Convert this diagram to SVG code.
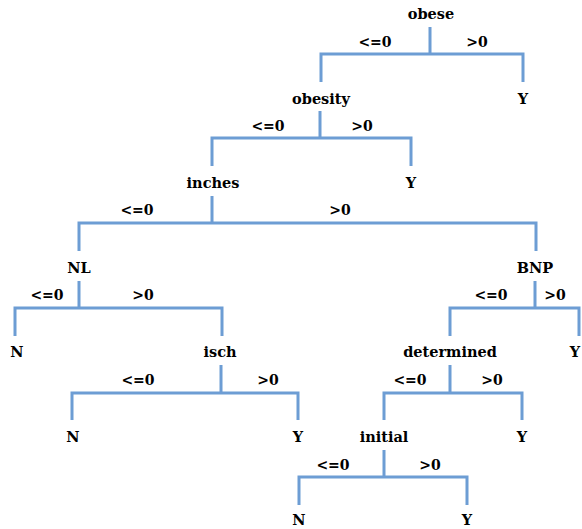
<svg xmlns="http://www.w3.org/2000/svg" width="582" height="529" viewBox="0 0 582 529">
<style>
text{font-family:"DejaVu Serif","Liberation Serif",serif;font-weight:bold;font-size:14.5px;fill:#000;text-anchor:middle}
.e{font-size:14px}
.c path{fill:none;stroke:#6d9dd4;stroke-width:3;stroke-linecap:butt;stroke-linejoin:miter}
</style>
<rect width="582" height="529" fill="#fff"/>
<g class="c" id="connectors">
<path d="M430 27V54M321 82V54H523V82"/>
<path d="M320 111V138M212 166V138H411V166"/>
<path d="M212 196V223M79 251V223H536V251"/>
<path d="M79 281V308M15 336V308H222V336"/>
<path d="M535 281V308M450 336V308H579V336"/>
<path d="M221 365V393M72 420V393H298V420"/>
<path d="M450 365V393M384 420V393H522V420"/>
<path d="M384 450V477M299 505V477H467V505"/>
</g>
<g id="edge-labels">
<text class="e" x="375" y="47">&lt;=0</text><text class="e" x="477" y="47">&gt;0</text>
<text class="e" x="268" y="131">&lt;=0</text><text class="e" x="362" y="131">&gt;0</text>
<text class="e" x="137" y="215">&lt;=0</text><text class="e" x="340" y="215">&gt;0</text>
<text class="e" x="47" y="300">&lt;=0</text><text class="e" x="143" y="300">&gt;0</text>
<text class="e" x="491" y="300">&lt;=0</text><text class="e" x="555" y="300">&gt;0</text>
<text class="e" x="138" y="385">&lt;=0</text><text class="e" x="268" y="385">&gt;0</text>
<text class="e" x="410" y="385">&lt;=0</text><text class="e" x="492" y="385">&gt;0</text>
<text class="e" x="333" y="470">&lt;=0</text><text class="e" x="430" y="470">&gt;0</text>
</g>
<g id="n-obese"><text x="431" y="19">obese</text></g>
<g id="n-obesity"><text x="321" y="104">obesity</text></g>
<g id="n-y1"><text x="523" y="104">Y</text></g>
<g id="n-inches"><text x="213" y="188">inches</text></g>
<g id="n-y2"><text x="411" y="188">Y</text></g>
<g id="n-nl"><text x="79" y="273">NL</text></g>
<g id="n-bnp"><text x="535" y="273">BNP</text></g>
<g id="n-n1"><text x="17" y="357">N</text></g>
<g id="n-isch"><text x="220" y="357">isch</text></g>
<g id="n-determined"><text x="450" y="357">determined</text></g>
<g id="n-y3"><text x="575" y="357">Y</text></g>
<g id="n-n2"><text x="73" y="442">N</text></g>
<g id="n-y4"><text x="298" y="442">Y</text></g>
<g id="n-initial"><text x="384" y="442">initial</text></g>
<g id="n-y5"><text x="522" y="442">Y</text></g>
<g id="n-n3"><text x="299" y="525">N</text></g>
<g id="n-y6"><text x="467" y="525">Y</text></g>
</svg>
